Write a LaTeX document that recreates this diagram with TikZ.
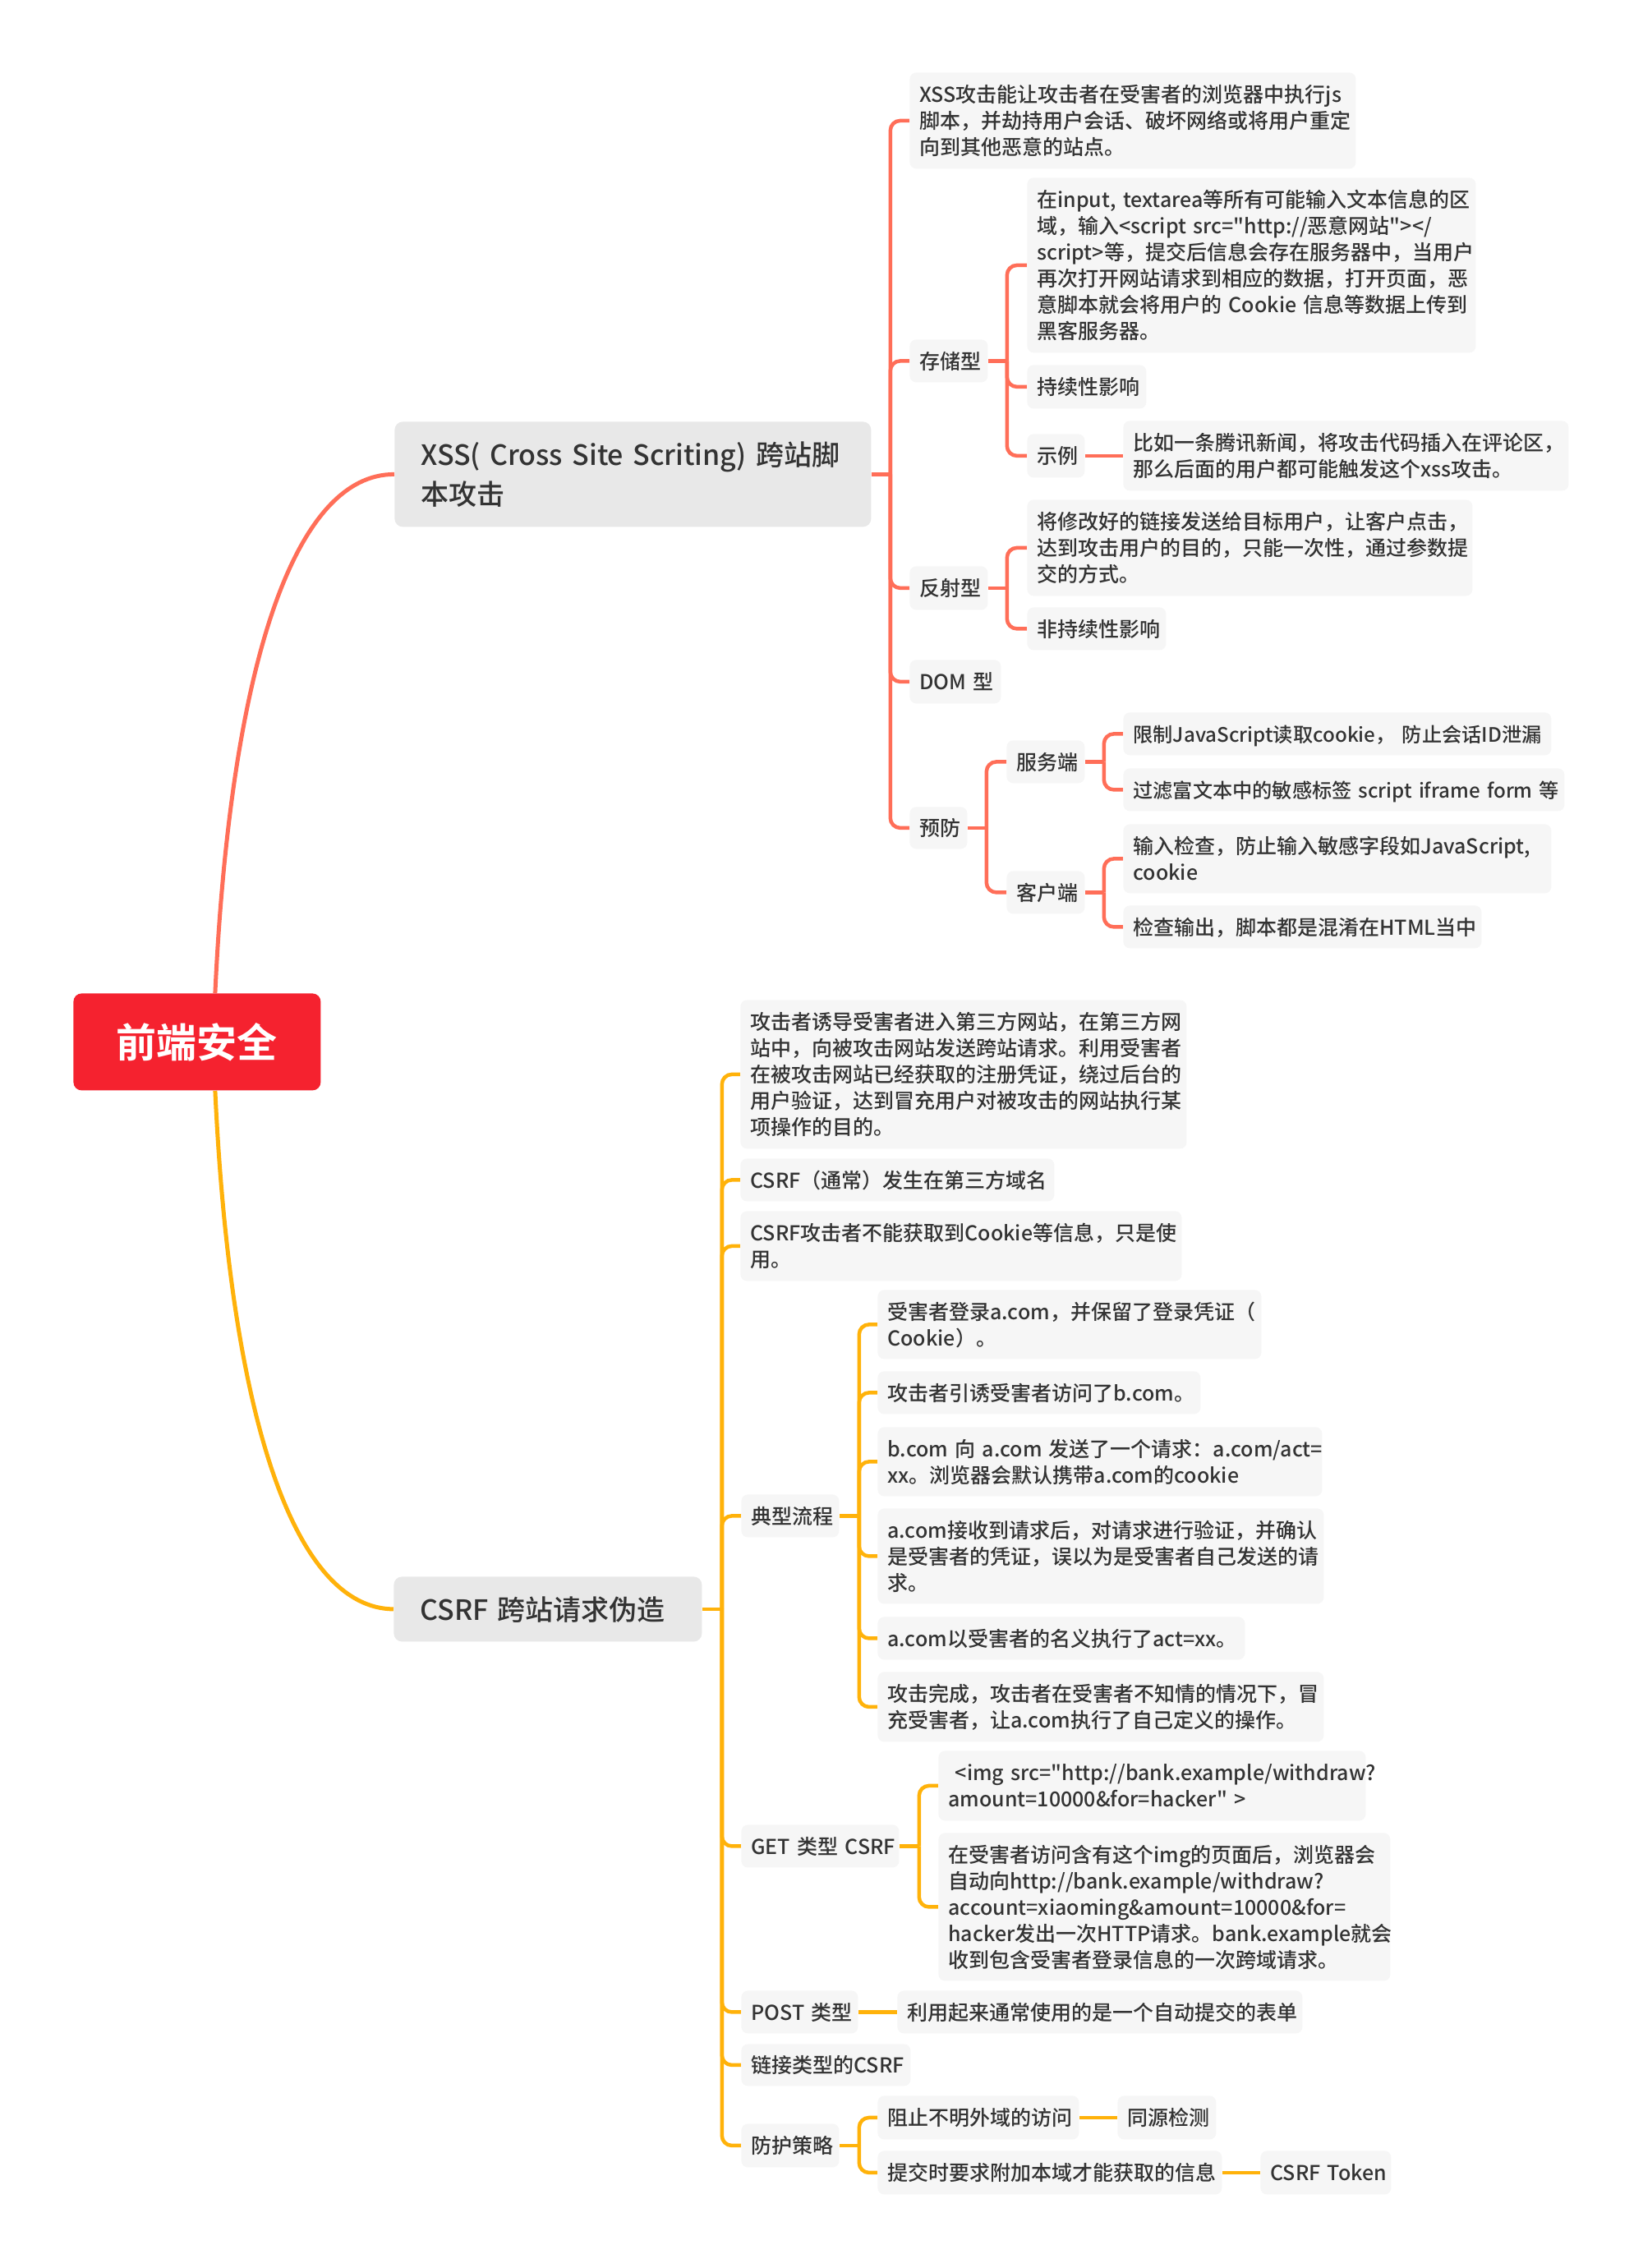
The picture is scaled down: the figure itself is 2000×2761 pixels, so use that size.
\documentclass[tikz,border=0pt]{standalone}
\usepackage{fontspec}
\setmainfont{Noto Sans CJK SC Medium}[Ligatures=TeXOff, BoldFont={Noto Sans CJK SC Bold}]
\usetikzlibrary{calc,backgrounds}
\definecolor{xsscol}{HTML}{FF6E58}
\definecolor{csrfcol}{HTML}{FFB20A}
\definecolor{rootcol}{HTML}{F5222F}
\definecolor{leafbg}{HTML}{F6F6F6}
\definecolor{mainbg}{HTML}{E8E8E8}
\definecolor{txtcol}{HTML}{333333}
\newcommand\tl[1]{\setbox0\hbox{\begin{tabular}{@{}l@{}}#1\end{tabular}}\vbox{\kern3.5pt\box0}}
\begin{document}
\begin{tikzpicture}[x=0.5pt,y=-0.5pt,
  every node/.style={text=txtcol, inner ysep=0pt},
  leaf/.style={fill=leafbg, rounded corners=4pt, anchor=north west, inner xsep=6pt, align=left, font=\fontsize{12.5pt}{16pt}\selectfont},
  tightfont/.style={font=\fontsize{12.1pt}{16pt}\selectfont},
  mainbox/.style={fill=mainbg, rounded corners=5pt, anchor=north west, inner xsep=16pt, align=left, font=\fontsize{17pt}{24pt}\selectfont},
  rootbox/.style={fill=rootcol, rounded corners=5pt, anchor=north west, inner sep=0pt, text=white, font=\fontsize{24.5pt}{30pt}\selectfont\bfseries, minimum width=150.5pt, minimum height=59pt},
  xl/.style={draw=xsscol, line width=2.25pt, rounded corners=6pt},
  cl/.style={draw=csrfcol, line width=2.25pt, rounded corners=6pt},
  sz/.style 2 args={text width=#1pt, minimum height=#2pt}
]
\useasboundingbox (0,0) rectangle (2000,2761);
% root and main branches
\node[rootbox] (root) at (89,1209) {前端安全};
\node[mainbox, sz={258}{64}] (xss) at (480,513) {\tl{XSS( Cross Site Scriting) 跨站脚\\本攻击}};
\node[mainbox, sz={155.5}{39.5}] (csrf) at (479,1919) {\tl{CSRF 跨站请求伪造}};
% XSS subtree
\node[leaf, sz={259.5}{58.5}] (n1) at (1107,88) {\tl{XSS攻击能让攻击者在受害者的浏览器中执行js\\脚本，并劫持用户会话、破坏网络或将用户重定\\向到其他恶意的站点。}};
\node[leaf, sz={35.5}{26}] (s0) at (1107,413) {\tl{存储型}};
\node[leaf, sz={261}{106.5}] (s1) at (1250,216) {\tl{在input, textarea等所有可能输入文本信息的区\\域，输入<script src="http://恶意网站"></\\script>等，提交后信息会存在服务器中，当用户\\再次打开网站请求到相应的数据，打开页面，恶\\意脚本就会将用户的 Cookie 信息等数据上传到\\黑客服务器。}};
\node[leaf, sz={60.5}{26.5}] (s2) at (1250,444) {\tl{持续性影响}};
\node[leaf, sz={23}{26.5}] (s3) at (1250,528) {\tl{示例}};
\node[leaf, sz={259}{42.5}] (s3a) at (1367,512) {\tl{比如一条腾讯新闻，将攻击代码插入在评论区，\\那么后面的用户都可能触发这个xss攻击。}};
\node[leaf, sz={35.5}{26.5}] (r0) at (1107,689) {\tl{反射型}};
\node[leaf, sz={259}{58.5}] (r1) at (1250,608) {\tl{将修改好的链接发送给目标用户，让客户点击，\\达到攻击用户的目的，只能一次性，通过参数提\\交的方式。}};
\node[leaf, sz={72.5}{26}] (r2) at (1250,739) {\tl{非持续性影响}};
\node[leaf, sz={43.5}{26.5}] (dom) at (1107,803) {\tl{DOM 型}};
\node[leaf, sz={23}{25.5}] (pv) at (1107,982) {\tl{预防}};
\node[leaf, sz={35.5}{26}] (sv) at (1225,901) {\tl{服务端}};
\node[leaf, sz={35.5}{26}] (cs) at (1225,1060) {\tl{客户端}};
\node[leaf, tightfont, sz={248.5}{26}] (sv1) at (1367,867) {\tl{限制JavaScript读取cookie， 防止会话ID泄漏}};
\node[leaf, tightfont, sz={256.5}{26}] (sv2) at (1367,935) {\tl{过滤富文本中的敏感标签 script iframe form 等}};
\node[leaf, sz={248.5}{42}] (cs1) at (1367,1003) {\tl{输入检查，防止输入敏感字段如JavaScript,\\cookie}};
\node[leaf, sz={206}{26}] (cs2) at (1367,1102) {\tl{检查输出，脚本都是混淆在HTML当中}};
% CSRF subtree
\node[leaf, sz={259.5}{90.5}] (c1) at (901,1217) {\tl{攻击者诱导受害者进入第三方网站，在第三方网\\站中，向被攻击网站发送跨站请求。利用受害者\\在被攻击网站已经获取的注册凭证，绕过后台的\\用户验证，达到冒充用户对被攻击的网站执行某\\项操作的目的。}};
\node[leaf, sz={179}{26}] (c2) at (901,1410) {\tl{CSRF（通常）发生在第三方域名}};
\node[leaf, sz={256.5}{42.5}] (c3) at (901,1474) {\tl{CSRF攻击者不能获取到Cookie等信息，只是使\\用。}};
\node[leaf, sz={47.5}{26}] (flow) at (902,1819) {\tl{典型流程}};
\node[leaf, sz={221.5}{42}] (f1) at (1068,1570) {\tl{受害者登录a.com，并保留了登录凭证（\\Cookie）。}};
\node[leaf, sz={184.5}{26}] (f2) at (1068,1669) {\tl{攻击者引诱受害者访问了b.com。}};
\node[leaf, sz={258.5}{42}] (f3) at (1068,1737) {\tl{b.com 向 a.com 发送了一个请求：a.com/act=\\xx。浏览器会默认携带a.com的cookie}};
\node[leaf, sz={259.5}{58}] (f4) at (1068,1836) {\tl{a.com接收到请求后，对请求进行验证，并确认\\是受害者的凭证，误以为是受害者自己发送的请\\求。}};
\node[leaf, sz={211.5}{26}] (f5) at (1068,1968) {\tl{a.com以受害者的名义执行了act=xx。}};
\node[leaf, sz={259.5}{42.5}] (f6) at (1068,2035) {\tl{攻击完成，攻击者在受害者不知情的情况下，冒\\充受害者，让a.com执行了自己定义的操作。}};
\node[leaf, sz={84}{26}] (get) at (902,2221) {\tl{GET 类型 CSRF}};
\node[leaf, sz={248}{42.5}] (g1) at (1142,2131) {\tl{\ <img src="http://bank.example/withdraw?\\amount=10000\&for=hacker" >}};
\node[leaf, sz={263}{90}] (g2) at (1142,2231) {\tl{在受害者访问含有这个img的页面后，浏览器会\\自动向http://bank.example/withdraw?\\account=xiaoming\&amount=10000\&for=\\hacker发出一次HTTP请求。bank.example就会\\收到包含受害者登录信息的一次跨域请求。}};
\node[leaf, sz={59}{26}] (post) at (902,2423) {\tl{POST 类型}};
\node[leaf, sz={234.5}{26}] (p1) at (1092,2423) {\tl{利用起来通常使用的是一个自动提交的表单}};
\node[leaf, sz={91}{25.5}] (link) at (902,2488) {\tl{链接类型的CSRF}};
\node[leaf, sz={47.5}{26.5}] (def) at (902,2585) {\tl{防护策略}};
\node[leaf, sz={110.5}{26.5}] (d1) at (1068,2551) {\tl{阻止不明外域的访问}};
\node[leaf, sz={48}{26.5}] (d1a) at (1360,2551) {\tl{同源检测}};
\node[leaf, sz={197.5}{26.5}] (d2) at (1068,2618) {\tl{提交时要求附加本域才能获取的信息}};
\node[leaf, sz={67.5}{26.5}] (d2a) at (1534,2618) {\tl{CSRF Token}};
% junctions
\coordinate (jx) at ([xshift=11.5pt]xss.east);
\coordinate (js) at ([xshift=11.5pt]s0.east);
\coordinate (jr) at ([xshift=11.5pt]r0.east);
\coordinate (jp) at ([xshift=11.5pt]pv.east);
\coordinate (jsv) at ([xshift=11.5pt]sv.east);
\coordinate (jcs) at ([xshift=11.5pt]cs.east);
\coordinate (jc) at ([xshift=12pt]csrf.east);
\coordinate (jf) at ([xshift=12pt]flow.east);
\coordinate (jg) at ([xshift=12pt]get.east);
\coordinate (jd) at ([xshift=12pt]def.east);
\begin{scope}[on background layer]
\fill[white] (0,0) rectangle (2000,2761);
\draw[draw=xsscol, line width=2.5pt] ([xshift=11pt]root.north) .. controls (281,800) and (361,577) .. (xss.west);
\draw[draw=csrfcol, line width=2.5pt] ([xshift=11pt]root.south) .. controls (281,1736) and (361,1958) .. (csrf.west);
\draw[xl] (xss.east) -- (jx);
\foreach \c in {n1,s0,r0,dom,pv} \draw[xl] (jx) |- (\c.west);
\draw[xl] (s0.east) -- (js);
\foreach \c in {s1,s2,s3} \draw[xl] (js) |- (\c.west);
\draw[xl] (s3.east) -- (s3a.west);
\draw[xl] (r0.east) -- (jr);
\foreach \c in {r1,r2} \draw[xl] (jr) |- (\c.west);
\draw[xl] (pv.east) -- (jp);
\foreach \c in {sv,cs} \draw[xl] (jp) |- (\c.west);
\draw[xl] (sv.east) -- (jsv);
\foreach \c in {sv1,sv2} \draw[xl] (jsv) |- (\c.west);
\draw[xl] (cs.east) -- (jcs);
\foreach \c in {cs1,cs2} \draw[xl] (jcs) |- (\c.west);
\draw[cl] (csrf.east) -- (jc);
\foreach \c in {c1,c2,c3,flow,get,post,link,def} \draw[cl] (jc) |- (\c.west);
\draw[cl] (flow.east) -- (jf);
\foreach \c in {f1,f2,f3,f4,f5,f6} \draw[cl] (jf) |- (\c.west);
\draw[cl] (get.east) -- (jg);
\foreach \c in {g1,g2} \draw[cl] (jg) |- (\c.west);
\draw[cl] (post.east) -- (p1.west);
\draw[cl] (def.east) -- (jd);
\foreach \c in {d1,d2} \draw[cl] (jd) |- (\c.west);
\draw[cl] (d1.east) -- (d1a.west);
\draw[cl] (d2.east) -- (d2a.west);
\end{scope}
\end{tikzpicture}
\end{document}
